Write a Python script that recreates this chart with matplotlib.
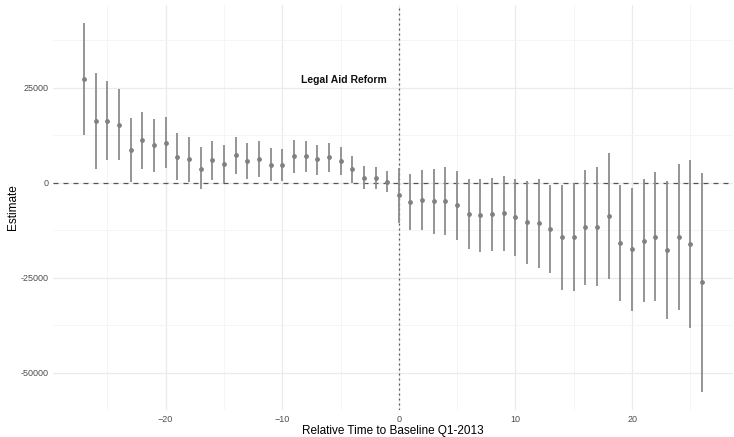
import numpy as np
import matplotlib
matplotlib.use("Agg")
import matplotlib.pyplot as plt

plt.rcParams['font.family'] = ['Liberation Sans', 'DejaVu Sans']

rel_time = list(range(-27, 27))
estimate = [27190, 16210, 16210, 15260, 8590, 11130, 9900, 10530, 6840, 6210,
            3680, 5950, 4820, 7260, 5690, 6310, 4730, 4730, 7000, 7000,
            6130, 6840, 5790, 3680, 1320, 1320, 260, -3260, -5100, -4480,
            -4920, -4660, -5970, -8160, -8530, -8260, -8000, -9050, -10370, -10530,
            -12110, -14320, -14320, -11690, -11580, -8610, -15790, -17470, -15190, -14130,
            -17640, -14320, -16060, -26160]
ci_upper = [41930, 28950, 26660, 24560, 17000, 18580, 16840, 17190, 12980, 12110,
            9290, 11050, 9820, 12110, 10340, 10870, 9110, 8950, 11210, 11050,
            10000, 10530, 9290, 7000, 4370, 4210, 3160, 3840, 2260, 3320,
            3500, 4030, 3160, 1050, 1050, 1210, 1740, 1050, 530, 870,
            -530, -530, 0, 3320, 4030, 7900, -710, -1240, 870, 2790,
            340, 4900, 5950, 2630]
ci_lower = [12450, 3680, 5950, 5950, 160, 3500, 2970, 3840, 690, 160,
            -1760, 690, 0, 2370, 870, 1580, 340, 340, 2630, 2790,
            2100, 2970, 2100, 0, -1760, -1580, -2470, -10500, -12470, -12290,
            -13530, -13610, -14920, -17370, -18080, -17900, -17900, -19320, -21420, -22290,
            -23690, -28270, -28530, -26770, -27210, -25270, -31060, -33790, -31420, -31160,
            -35800, -33530, -38160, -54930]

x_ticks = [-20, -10, 0, 10, 20]
y_ticks = [-50000, -25000, 0, 25000]
annot_text = "Legal Aid Reform"

fig = plt.figure(figsize=(7.34, 4.37), dpi=100)
ax = fig.add_axes([53/734, 27/437, 680/734, 405/437])

x = np.array(rel_time)
est = np.array(estimate)
lo = np.array(ci_lower)
hi = np.array(ci_upper)

# ggplot-like expansion
xr = x.max() - x.min()
ax.set_xlim(x.min() - 0.05 * xr, x.max() + 0.05 * xr)
ymin, ymax = lo.min(), hi.max()
yr = ymax - ymin
ax.set_ylim(ymin - 0.05 * yr, ymax + 0.05 * yr)

# grids
for t in x_ticks:
    ax.axvline(t, color="#ebebeb", lw=0.9, zorder=0)
for t in [-25, -15, -5, 5, 15, 25]:
    ax.axvline(t, color="#f4f4f4", lw=0.6, zorder=0)
for t in y_ticks:
    ax.axhline(t, color="#ebebeb", lw=0.9, zorder=0)
for t in [-37500, -12500, 12500, 37500]:
    ax.axhline(t, color="#f4f4f4", lw=0.6, zorder=0)

ax.axhline(0, color="#555555", lw=0.9, ls=(0, (4, 4)), zorder=1)
ax.axvline(0, color="#555555", lw=0.9, ls=(0, (1.5, 2.5)), zorder=1)

ax.vlines(x, lo, hi, color="#8c8c8c", lw=1.3, zorder=2)
ax.scatter(x, est, s=12, color="#808080", zorder=3, linewidths=0)

ax.text(-4.75, 27000, annot_text, ha="center", va="center", fontsize=7.5,
        fontweight="bold", color="#111111")

for s in ax.spines.values():
    s.set_visible(False)
ax.set_xticks(x_ticks)
ax.set_yticks(y_ticks)
ax.set_yticklabels([str(v) for v in y_ticks])
ax.tick_params(length=0, labelsize=6.5, labelcolor="#4d4d4d", pad=3.5)
ax.set_xlabel("Relative Time to Baseline Q1-2013", fontsize=8.5)
ax.set_ylabel("Estimate", fontsize=8.5)
ax.xaxis.set_label_coords(0.5, -(431 - 410) / 405, transform=ax.transAxes)
ax.xaxis.label.set_va("center")
ax.yaxis.set_label_coords((13 - 53) / 680, 0.5, transform=ax.transAxes)
ax.yaxis.label.set_va("center")

fig.savefig("out.png", dpi=100)
